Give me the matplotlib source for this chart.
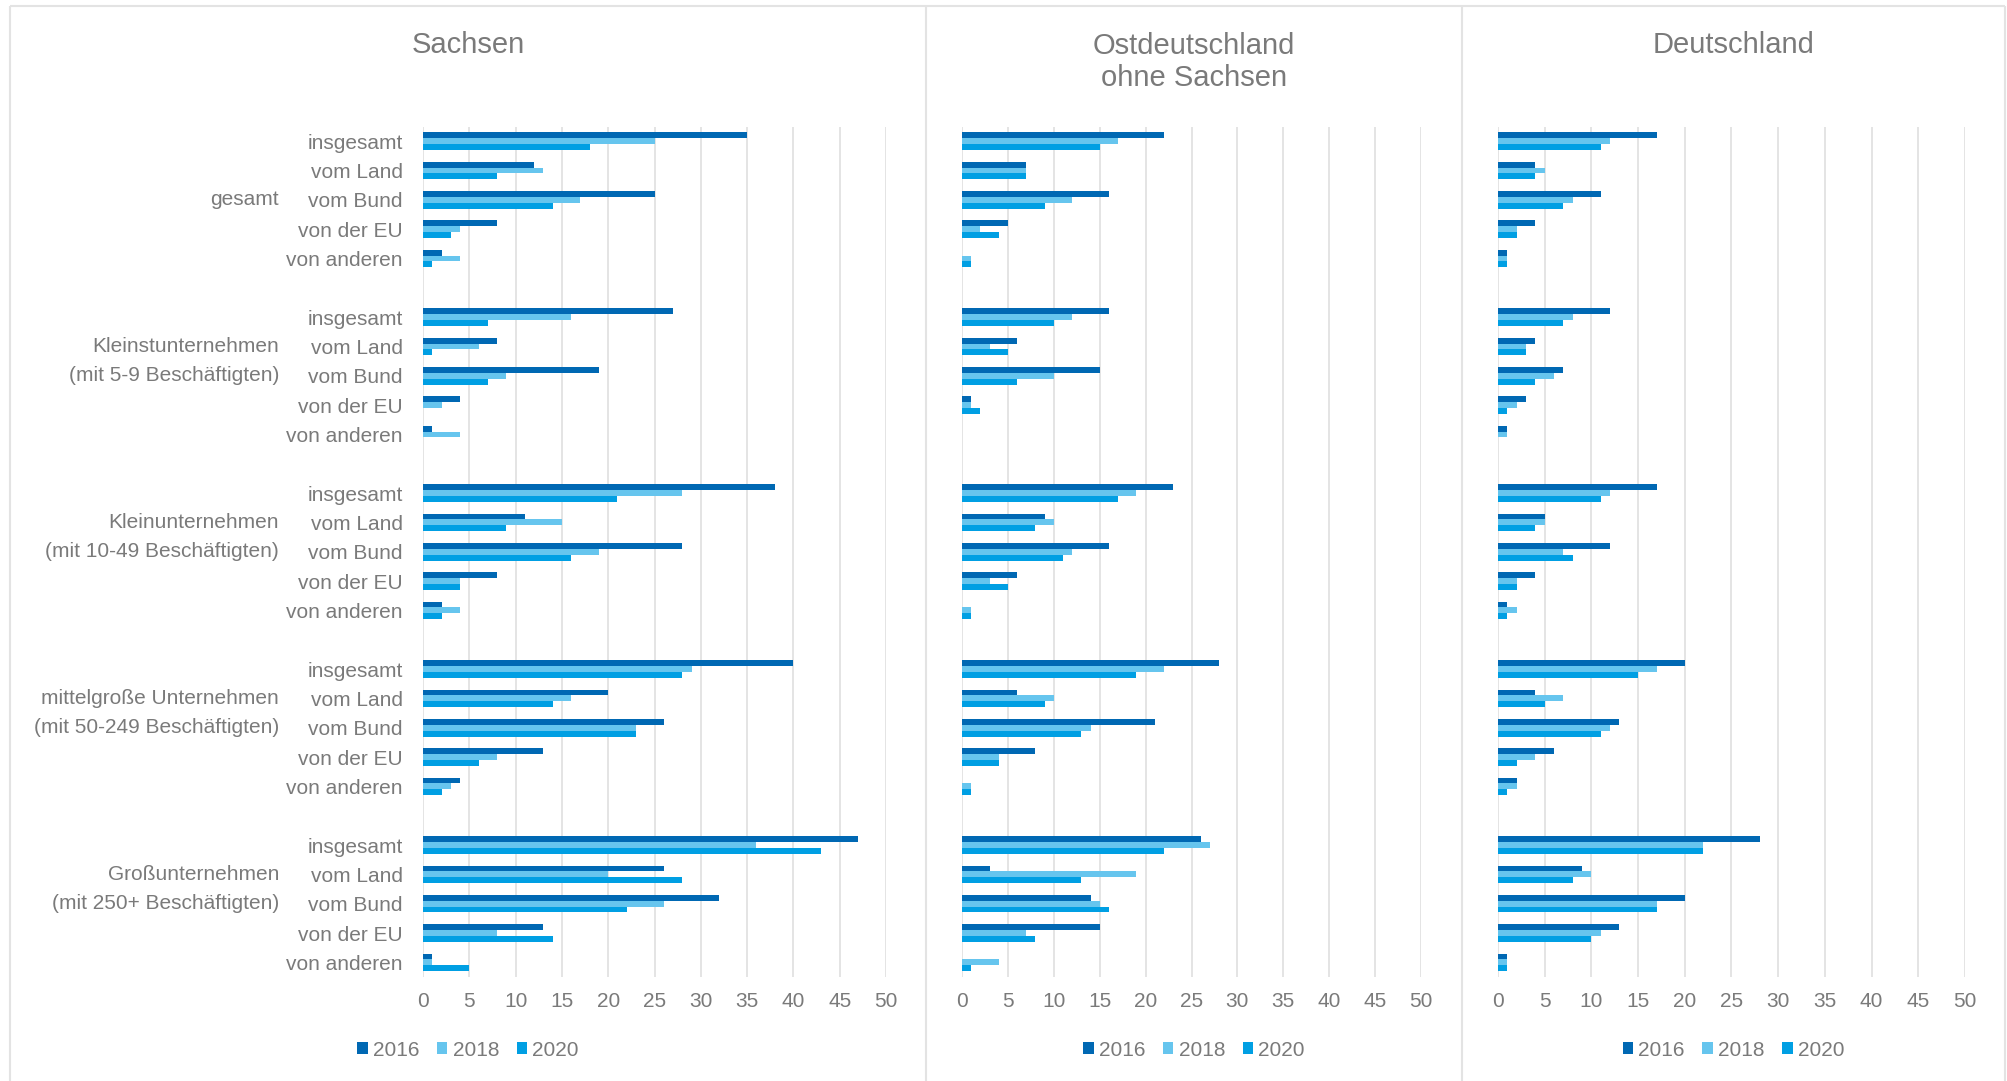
import matplotlib
matplotlib.use("Agg")
import matplotlib.pyplot as plt
import numpy as np
from matplotlib.lines import Line2D
from matplotlib.patches import Patch
from matplotlib.transforms import blended_transform_factory

plt.rcParams['font.family'] = ['Liberation Sans', 'DejaVu Sans']

# ---- data -------------------------------------------------------------
years = ["2016", "2018", "2020"]
sources = ["insgesamt", "vom Land", "vom Bund", "von der EU", "von anderen"]
group_line1 = ["", "Kleinstunternehmen", "Kleinunternehmen",
               "mittelgroße Unternehmen", "Großunternehmen"]
group_line2 = ["gesamt", "(mit 5-9 Beschäftigten)", "(mit 10-49 Beschäftigten)",
               "(mit 50-249 Beschäftigten)", "(mit 250+ Beschäftigten)"]
regions = ["Sachsen", "Ostdeutschland\nohne Sachsen", "Deutschland"]

# shares in percent, group by group (gesamt, Kleinst, Klein, mittel, groß),
# within each group: insgesamt, Land, Bund, EU, andere
sachsen_2016 = [35, 12, 25, 8, 2,  27, 8, 19, 4, 1,  38, 11, 28, 8, 2,  40, 20, 26, 13, 4,  47, 26, 32, 13, 1]
sachsen_2018 = [25, 13, 17, 4, 4,  16, 6, 9, 2, 4,   28, 15, 19, 4, 4,  29, 16, 23, 8, 3,   36, 20, 26, 8, 1]
sachsen_2020 = [18, 8, 14, 3, 1,   7, 1, 7, 0, 0,    21, 9, 16, 4, 2,   28, 14, 23, 6, 2,   43, 28, 22, 14, 5]

ost_2016 = [22, 7, 16, 5, 0,  16, 6, 15, 1, 0,  23, 9, 16, 6, 0,   28, 6, 21, 8, 0,   26, 3, 14, 15, 0]
ost_2018 = [17, 7, 12, 2, 1,  12, 3, 10, 1, 0,  19, 10, 12, 3, 1,  22, 10, 14, 4, 1,  27, 19, 15, 7, 4]
ost_2020 = [15, 7, 9, 4, 1,   10, 5, 6, 2, 0,   17, 8, 11, 5, 1,   19, 9, 13, 4, 1,   22, 13, 16, 8, 1]

de_2016 = [17, 4, 11, 4, 1,  12, 4, 7, 3, 1,  17, 5, 12, 4, 1,  20, 4, 13, 6, 2,   28, 9, 20, 13, 1]
de_2018 = [12, 5, 8, 2, 1,   8, 3, 6, 2, 1,   12, 5, 7, 2, 2,   17, 7, 12, 4, 2,   22, 10, 17, 11, 1]
de_2020 = [11, 4, 7, 2, 1,   7, 3, 4, 1, 0,   11, 4, 8, 2, 1,   15, 5, 11, 2, 1,   22, 8, 17, 10, 1]

region_series = [
    [sachsen_2016, sachsen_2018, sachsen_2020],
    [ost_2016, ost_2018, ost_2020],
    [de_2016, de_2018, de_2020],
]

# ---- style ------------------------------------------------------------
colors = ["#0068B3", "#66C5EE", "#009FE3"]
text_gray = "#7A7A7A"
grid_gray = "#DCDCDC"
frame_gray = "#E3E3E3"

W, H = 2008, 1081
fig = plt.figure(figsize=(W / 100, H / 100), dpi=100)

axes_px = [(423, 886), (962, 1421), (1498, 1965)]
col_px = [(10, 926), (926, 1462), (1462, 2005)]
top_px, bot_px = 126.5, 977

n_groups = len(group_line2)
n_src = len(sources)
slot = n_src + 1  # one empty row between groups
pos = np.array([g * slot + s for g in range(n_groups) for s in range(n_src)], dtype=float)
tick_labels = [sources[s] for g in range(n_groups) for s in range(n_src)]
bar_h = 0.2

for i, (series, (x0, x1), (c0, c1)) in enumerate(zip(region_series, axes_px, col_px)):
    ax = fig.add_axes([x0 / W, 1 - bot_px / H, (x1 - x0) / W, (bot_px - top_px) / H])
    for k, (vals, col) in enumerate(zip(series, colors)):
        ax.barh(pos + (k - 1) * bar_h, vals, height=bar_h, color=col,
                linewidth=0, zorder=3)
    ax.set_xlim(0, 50)
    ax.set_ylim(pos[-1] + 0.5, -0.5)
    ax.set_xticks(np.arange(0, 51, 5))
    ax.grid(axis='x', color=grid_gray, lw=1.1, zorder=0)
    ax.set_axisbelow(True)
    for sp in ax.spines.values():
        sp.set_visible(False)
    ax.tick_params(axis='x', length=0, pad=11, labelsize=15, labelcolor=text_gray)

    if i == 0:
        ax.set_yticks(pos, tick_labels)
        ax.tick_params(axis='y', length=0, pad=14.5, labelsize=15, labelcolor=text_gray)
        tr = blended_transform_factory(fig.transFigure, ax.transData)
        for g in range(n_groups):
            if group_line1[g]:
                ax.text(279 / W, g * slot + 1, group_line1[g], transform=tr,
                        ha='right', va='center', fontsize=15, color=text_gray)
            ax.text(279 / W, g * slot + 2, group_line2[g], transform=tr,
                    ha='right', va='center', fontsize=15, color=text_gray)
    else:
        ax.set_yticks([])

    cx = (c0 + c1) / 2 / W
    title_y = 62 if "\n" in regions[i] else 45
    fig.text(cx, 1 - title_y / H, regions[i], ha='center', va='center',
             fontsize=21, color=text_gray, linespacing=1.15)

    handles = [Patch(facecolor=c, edgecolor='none') for c in colors]
    ax.legend(handles, years, loc='center', bbox_to_anchor=(cx, 1 - 1050 / H),
              bbox_transform=fig.transFigure, ncol=3, frameon=False, fontsize=15,
              handlelength=0.5, handleheight=0.5, handletextpad=0.25,
              columnspacing=0.85, labelcolor=text_gray, borderpad=0)

# panel frame and dividers
def fig_line(xs, ys):
    fig.add_artist(Line2D([x / W for x in xs], [1 - y / H for y in ys],
                          transform=fig.transFigure, color=frame_gray, lw=1.5,
                          solid_capstyle='butt'))

fig_line([10, 2005], [6, 6])
for xb in (10, 926, 1462, 2005):
    fig_line([xb, xb], [6, H + 2])

fig.savefig("out.png", dpi=100)
